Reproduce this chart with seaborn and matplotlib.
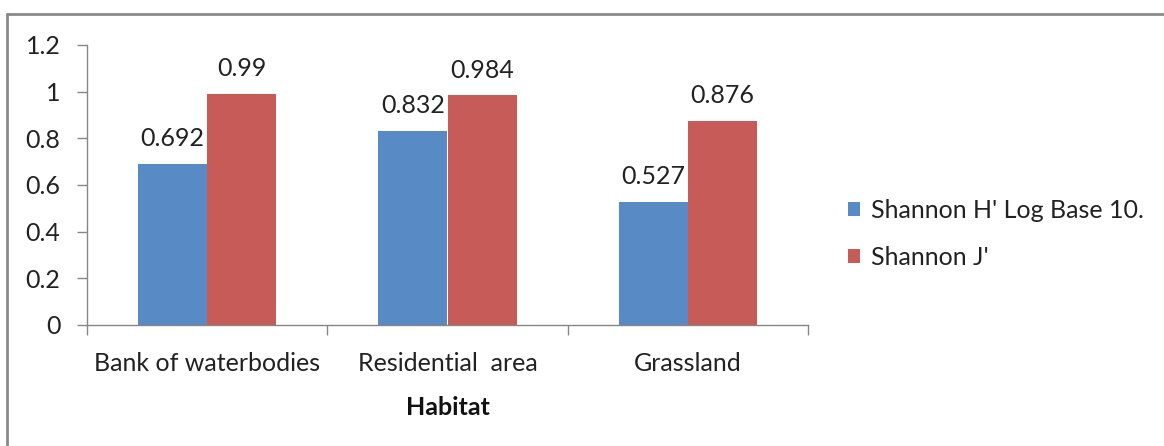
import matplotlib
matplotlib.use("Agg")
import matplotlib.pyplot as plt
from matplotlib.lines import Line2D
from matplotlib.patches import Patch
import seaborn as sns
import pandas as pd

habitats = ["Bank of waterbodies", "Residential  area", "Grassland"]
series_names = ["Shannon H' Log Base 10.", "Shannon J'"]
shannon_h = [0.692, 0.832, 0.527]
shannon_j = [0.99, 0.984, 0.876]
h_labels = ["0.692", "0.832", "0.527"]
j_labels = ["0.99", "0.984", "0.876"]
y_ticks = [0, 0.2, 0.4, 0.6, 0.8, 1.0, 1.2]
y_tick_labels = ["0", "0.2", "0.4", "0.6", "0.8", "1", "1.2"]

df = pd.DataFrame({
    "Habitat": habitats * 2,
    "Series": [series_names[0]] * 3 + [series_names[1]] * 3,
    "Value": shannon_h + shannon_j,
})

colors = ["#588AC5", "#C65B58"]
font = "Lato"
fs = 18

sns.set_style("white")
plt.rcParams["font.family"] = [font, "DejaVu Sans"]

fig = plt.figure(figsize=(11.64, 4.46), dpi=100)
ax = fig.add_axes([87 / 1164, 1 - 325 / 446, (808 - 87) / 1164, (325 - 45) / 446])

sns.barplot(data=df, x="Habitat", y="Value", hue="Series", hue_order=series_names,
            palette=colors, width=0.575, saturation=1, ax=ax, legend=False,
            edgecolor="none")

for cont, labs in zip(ax.containers, [h_labels, j_labels]):
    ax.bar_label(cont, labels=labs, padding=10, fontsize=fs, color="#222222")

ax.set_xlim(-0.5, 2.5)
ax.set_ylim(0, 1.2)
ax.set_yticks(y_ticks)
ax.set_yticklabels(y_tick_labels)
ax.set_xticks([-0.5, 0.5, 1.5, 2.5], minor=True)
ax.tick_params(axis="x", which="major", length=0, pad=19.5, labelsize=fs, labelcolor="#222222")
ax.tick_params(axis="x", which="minor", length=7, width=1, color="#868686", direction="out")
ax.tick_params(axis="y", which="major", length=7, width=1, color="#868686", direction="out",
               pad=12, labelsize=fs, labelcolor="#222222")
ax.xaxis.set_ticks_position("bottom")
ax.yaxis.set_ticks_position("left")

for side in ["top", "right"]:
    ax.spines[side].set_visible(False)
for side in ["left", "bottom"]:
    ax.spines[side].set_color("#868686")
    ax.spines[side].set_linewidth(1)

ax.set_ylabel("")
ax.set_xlabel("Habitat", fontsize=fs, fontweight="bold", color="#111111", labelpad=15)

handles = [Patch(facecolor=c, edgecolor="none") for c in colors]
fig.legend(handles, series_names, loc="center left", bbox_to_anchor=(825 / 1164, 1 - 234 / 446),
           frameon=False, fontsize=fs, handlelength=0.5, handleheight=0.5,
           handletextpad=0.45, labelspacing=0.95, labelcolor="#222222")

# outer chart frame (top and left edges)
fig.add_artist(Line2D([7 / 1164, 1.0], [1 - 14 / 446, 1 - 14 / 446], transform=fig.transFigure,
                      color="#8a8a8a", linewidth=2))
fig.add_artist(Line2D([7 / 1164, 7 / 1164], [0.0, 1 - 14 / 446], transform=fig.transFigure,
                      color="#8a8a8a", linewidth=2))

fig.savefig("out.png", dpi=100, facecolor="white")
